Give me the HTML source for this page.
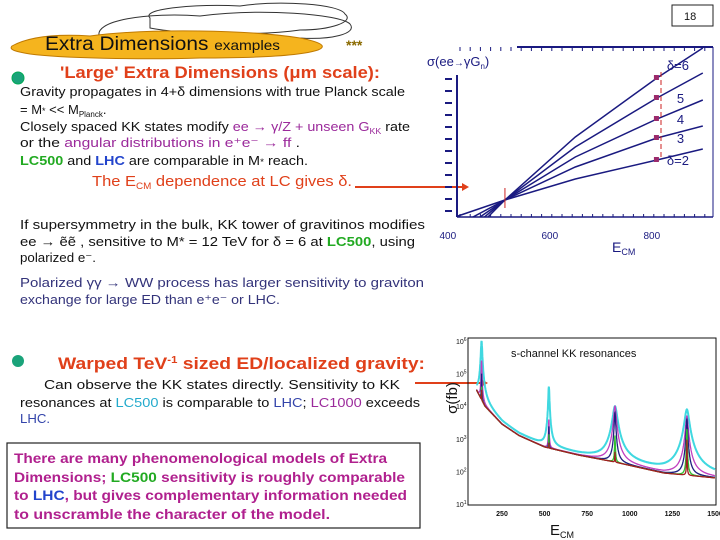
<!DOCTYPE html>
<html><head><meta charset="utf-8"><style>
html,body{margin:0;padding:0;background:#fff;}
svg{display:block;font-family:"Liberation Sans",sans-serif;}
</style></head><body>
<svg id="slide" width="720" height="540" viewBox="0 0 720 540">
<g fill="none" stroke="#333" stroke-width="1">
<path d="M150,18 C140,8 200,4 240,6 C280,0 340,4 345,14 C355,22 330,30 300,30 C260,36 180,34 150,28 Z"/>
<path d="M100,38 C90,20 150,12 200,16 C260,8 340,14 350,24 C358,34 330,40 300,38"/>
</g>
<path d="M12,46 C30,36 60,34 90,36 C150,28 250,30 300,38 C320,42 328,46 318,50 C300,56 250,58 200,58 C140,60 60,58 30,54 C18,52 8,50 12,46 Z" fill="#f5b41e" stroke="#c07a00" stroke-width="1"/>
<text x="45" y="50" font-size="19" fill="#111" textLength="235" lengthAdjust="spacingAndGlyphs">Extra Dimensions <tspan font-size="14">examples</tspan></text>
<text x="346" y="50" font-size="14" font-weight="bold" fill="#8a6a00">***</text>
<rect x="672" y="5" width="41" height="21" fill="none" stroke="#222"/>
<text x="684" y="20" font-size="11" fill="#111">18</text>

<circle cx="18" cy="78" r="6" fill="#1aa37a" stroke="#0a5" />
<text x="60" y="78" font-size="17" font-weight="bold" fill="#e0401a" textLength="320" lengthAdjust="spacingAndGlyphs">'Large' Extra Dimensions (μm scale):</text>
<g font-size="13" fill="#111">
<text x="20" y="96" textLength="385" lengthAdjust="spacingAndGlyphs">Gravity propagates in 4+δ dimensions with true Planck scale</text>
<text x="20" y="114">= M<tspan font-size="9">*</tspan> &lt;&lt; M<tspan font-size="8" dy="3">Planck</tspan><tspan dy="-3">.</tspan></text>
<text x="20" y="131" textLength="390" lengthAdjust="spacingAndGlyphs">Closely spaced KK states modify <tspan fill="#9b2a9b">ee → γ/Z + unseen G<tspan font-size="8" dy="3">KK</tspan></tspan><tspan dy="-3"> rate</tspan></text>
<text x="20" y="147" textLength="280" lengthAdjust="spacingAndGlyphs">or the <tspan fill="#9b2a9b">angular distributions in    e⁺e⁻ → ff</tspan> .</text>
<text x="20" y="165" textLength="288" lengthAdjust="spacingAndGlyphs"><tspan fill="#22aa22" font-weight="bold">LC500</tspan> and <tspan fill="#2244cc" font-weight="bold">LHC</tspan> are comparable in M<tspan font-size="9">*</tspan> reach.</text>
</g>
<text x="92" y="186" font-size="15" fill="#e0401a" textLength="260" lengthAdjust="spacingAndGlyphs">The E<tspan font-size="9" dy="3">CM</tspan><tspan dy="-3"> dependence at LC gives δ.</tspan></text>
<line x1="355" y1="187" x2="462" y2="187" stroke="#e0401a" stroke-width="2"/>
<polygon points="462,183 469,187 462,191" fill="#e0401a"/>

<g font-size="13" fill="#111">
<text x="20" y="229" textLength="405" lengthAdjust="spacingAndGlyphs">If supersymmetry in the bulk, KK tower of gravitinos modifies</text>
<text x="20" y="246" textLength="395" lengthAdjust="spacingAndGlyphs">ee →  ẽẽ , sensitive to M* = 12  TeV for δ = 6 at <tspan fill="#22aa22" font-weight="bold">LC500</tspan>,  using</text>
<text x="20" y="262" textLength="76" lengthAdjust="spacingAndGlyphs">polarized e⁻.</text>
</g>
<g font-size="13" fill="#33337a">
<text x="20" y="287" textLength="404" lengthAdjust="spacingAndGlyphs">Polarized γγ →  WW process has larger sensitivity to graviton</text>
<text x="20" y="304" textLength="260" lengthAdjust="spacingAndGlyphs">exchange for large ED than e⁺e⁻ or LHC.</text>
</g>

<circle cx="18" cy="361" r="6" fill="#1aa37a"/>
<text x="58" y="369" font-size="17" font-weight="bold" fill="#e0401a" textLength="367" lengthAdjust="spacingAndGlyphs">Warped TeV<tspan font-size="10" dy="-6">-1</tspan><tspan dy="6"> sized ED/localized gravity:</tspan></text>
<g font-size="13" fill="#111">
<text x="44" y="389" textLength="356" lengthAdjust="spacingAndGlyphs">Can observe the KK states directly.    Sensitivity to KK</text>
<text x="20" y="407" textLength="400" lengthAdjust="spacingAndGlyphs">resonances at <tspan fill="#22aacc">LC500</tspan> is comparable to <tspan fill="#3344aa">LHC</tspan>;   <tspan fill="#9b2a9b">LC1000</tspan> exceeds</text>
<text x="20" y="423" fill="#3344aa" textLength="30" lengthAdjust="spacingAndGlyphs">LHC.</text>
</g>
<line x1="415" y1="383" x2="483" y2="383" stroke="#e0401a" stroke-width="2"/>
<polygon points="481,379 488,383 481,387" fill="#e0401a"/>

<rect x="7" y="443" width="413" height="85" fill="none" stroke="#222" stroke-width="1.2"/>
<g font-size="14" font-weight="bold" fill="#b0208e">
<text x="14" y="463" textLength="373" lengthAdjust="spacingAndGlyphs">There are many phenomenological models of Extra</text>
<text x="14" y="482" textLength="391" lengthAdjust="spacingAndGlyphs">Dimensions;  <tspan fill="#22aa22">LC500</tspan> sensitivity is roughly comparable</text>
<text x="14" y="500" textLength="393" lengthAdjust="spacingAndGlyphs">to <tspan fill="#2244cc">LHC</tspan>, but gives complementary information needed</text>
<text x="14" y="519" textLength="316" lengthAdjust="spacingAndGlyphs">to unscramble the character of the model.</text>
</g>

<g id="chart1"></g>
<g id="chart2"></g>
</svg>
<script>
const NS="http://www.w3.org/2000/svg";
function mk(p,t,a){const e=document.createElementNS(NS,t);for(const k in a)e.setAttribute(k,a[k]);p.appendChild(e);return e;}

// ---- Chart 1 data ----
const c1Energies=[420,512,650,810,900];
const c1Deltas=[2,3,4,5,6];
const c1Delta2=[0.01,0.17,0.38,0.57,0.68];
const c1Delta3=[-0.08,0.17,0.5,0.79,0.91];
const c1Delta4=[-0.15,0.17,0.6,0.98,1.17];
const c1Delta5=[-0.22,0.17,0.7,1.19,1.44];
const c1Delta6=[-0.3,0.17,0.8,1.39,1.69];
const c1XTicks=[400,600,800];
const c1Series=[c1Delta2,c1Delta3,c1Delta4,c1Delta5,c1Delta6];
const c1Labels=["δ=2","3","4","5","δ=6"];

const g1=document.getElementById('chart1');
const x1=e=>457+(e-418)*0.51;
const y1=v=>217-v*100;
mk(g1,'line',{x1:517,y1:47,x2:713,y2:47,stroke:'#1a1a80','stroke-width':2});
mk(g1,'line',{x1:713,y1:47,x2:713,y2:217,stroke:'#1a1a80','stroke-width':1});
mk(g1,'line',{x1:457,y1:75,x2:457,y2:217,stroke:'#1a1a80','stroke-width':2});
mk(g1,'line',{x1:457,y1:217,x2:713,y2:217,stroke:'#1a1a80','stroke-width':1.5});
for(let i=0;i<25;i++){const xx=460+i*10.2;mk(g1,'line',{x1:xx,y1:47,x2:xx,y2:51,stroke:'#1a1a80'});mk(g1,'line',{x1:xx,y1:217,x2:xx,y2:214,stroke:'#1a1a80'});}
const c1Clip=mk(g1,'clipPath',{id:'cp1'});mk(c1Clip,'rect',{x:457,y:47,width:256,height:170});
c1Series.forEach((s,k)=>{
 const d=s.map((v,i)=>(i?'L':'M')+x1(c1Energies[i]).toFixed(1)+','+y1(v).toFixed(1)).join(' ');
 const p=mk(g1,'path',{d:d,fill:'none',stroke:'#1a1a80','stroke-width':1.5,'clip-path':'url(#cp1)'});
 
 
 mk(g1,'rect',{x:x1(810)-3,y:y1(s[3])-3,width:5,height:5,fill:'#9b2a6b'});
 const lb=mk(g1,'text',{x:x1(810)+(k==0||k==4?10:20),y:y1(s[3])+(k==4?-8:5),'font-size':13,fill:'#1a1a80'});
 lb.textContent=c1Labels[k];
 
 
});
mk(g1,'line',{x1:x1(818),y1:y1(1.45),x2:x1(818),y2:y1(0.6),stroke:'#cc2222','stroke-dasharray':'5,3'});
mk(g1,'line',{x1:x1(512),y1:188,x2:x1(512),y2:208,stroke:'#cc2222'});
c1XTicks.forEach(t=>{const e=mk(g1,'text',{x:x1(t),y:239,'font-size':10,fill:'#1a1a80','text-anchor':'middle'});e.textContent=t;
 });
for(let i=0;i<12;i++){mk(g1,'rect',{x:445,y:78+i*12,width:7,height:2,fill:'#1a1a80'});}
const t1=mk(g1,'text',{x:427,y:66,'font-size':13,fill:'#1a1a80'});t1.innerHTML='σ(ee<tspan font-size="10">→</tspan>γG<tspan font-size="8" dy="3">n</tspan><tspan dy="-3">)</tspan>';

const ex1=mk(g1,'text',{x:612,y:252,'font-size':14,fill:'#1a1a80'});ex1.innerHTML='E<tspan font-size="9" dy="3">CM</tspan>';


// ---- Chart 2 data ----
const c2BaseE=[100,150,250,350,500,700,900,1200,1500];
const c2BaseLog=[4.5,4.0,3.45,3.1,2.75,2.5,2.3,1.95,1.8];
const c2PeakE=[130,525,913,1335];
const c2Colors=["#a02020","#30c030","#202080","#c040c0","#40d8e0"];
const c2PeakLog=[[4.5,3.0,2.6,3.0],[4.6,3.2,3.1,3.3],[5.0,3.4,3.8,3.6],[5.4,3.6,4.0,3.7],[6.0,4.6,4.0,3.9]];
const c2Width=[1,2,4,7,12];
const c2XTicks=[250,500,750,1000,1250,1500];
const c2YTicks=[1,2,3,4,5,6];

const g2=document.getElementById('chart2');
const x2=e=>502+(e-250)*0.1704;
const y2=v=>504-(v-1)*32.6;
mk(g2,'rect',{x:468,y:338,width:248,height:167,fill:'none',stroke:'#111','stroke-width':1});
function baseAt(e){for(let i=1;i<c2BaseE.length;i++){if(e<=c2BaseE[i]){const f=(e-c2BaseE[i-1])/(c2BaseE[i]-c2BaseE[i-1]);return c2BaseLog[i-1]+f*(c2BaseLog[i]-c2BaseLog[i-1]);}}return c2BaseLog[c2BaseLog.length-1];}
const cp2=mk(g2,'clipPath',{id:'cp2'});mk(cp2,'rect',{x:468,y:338,width:248,height:167});
for(let k=c2Colors.length-1;k>=0;k--){
 let d='';
 for(let e=100;e<=1500;e+=0.75){
  const b=Math.pow(10,baseAt(e));let v=b;
  c2PeakE.forEach((pe,j)=>{const w=c2Width[k]*(j==0?0.3:(j==1?0.25:1));const h=Math.pow(10,c2PeakLog[k][j])-b;v+=Math.max(h,0)*w*w/((e-pe)*(e-pe)+w*w);});
  d+=(d?'L':'M')+x2(e).toFixed(1)+','+y2(Math.log10(v)).toFixed(1);
 }
 const p=mk(g2,'path',{d:d,fill:'none',stroke:c2Colors[k],'stroke-width':k==4?2:1.3,'clip-path':'url(#cp2)'});
 
 
}
c2XTicks.forEach(t=>{const e=mk(g2,'text',{x:x2(t),y:516,'font-size':7,'font-weight':'bold',fill:'#111','text-anchor':'middle'});e.textContent=t;
 });
c2YTicks.forEach(t=>{const e=mk(g2,'text',{x:456,y:y2(t)+3,'font-size':7,fill:'#111'});e.innerHTML='10<tspan font-size="5" dy="-3">'+t+'</tspan>';
 });
const lt=mk(g2,'text',{x:511,y:357,'font-size':11,fill:'#111'});lt.textContent='s-channel KK resonances';

const yt=mk(g2,'text',{x:0,y:0,'font-size':15,fill:'#111',transform:'translate(457,398) rotate(-90)','text-anchor':'middle'});yt.textContent='σ(fb)';

const xt=mk(g2,'text',{x:550,y:535,'font-size':15,fill:'#111'});xt.innerHTML='E<tspan font-size="9" dy="3">CM</tspan>';

</script>
</body></html>
